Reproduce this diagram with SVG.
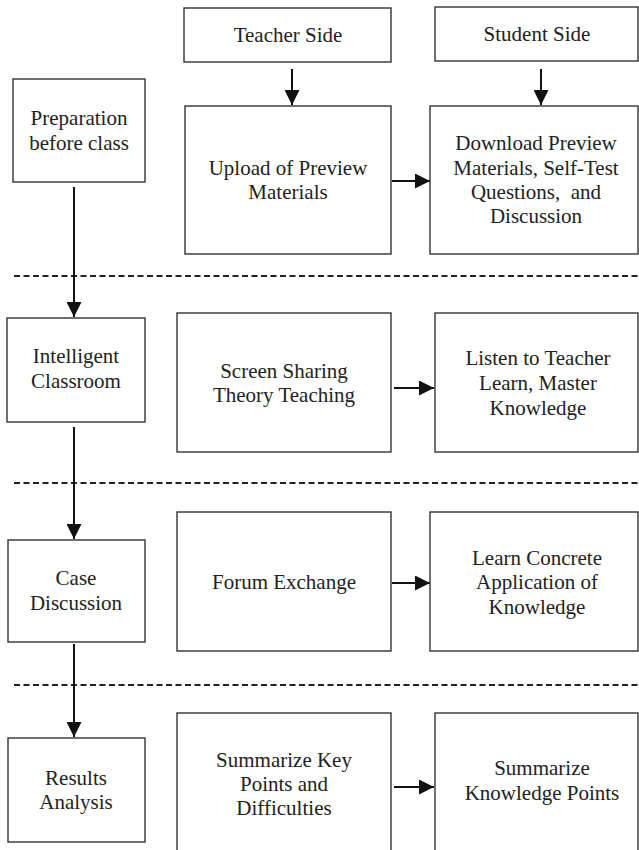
<svg xmlns="http://www.w3.org/2000/svg" width="639" height="850" viewBox="0 0 639 850">
<style>
.box{fill:#fff;stroke:#333;stroke-width:1.4}
.t{font-family:"Liberation Serif","Times New Roman",serif;font-size:21px;fill:#222;text-anchor:middle}
.c{stroke:#111;stroke-width:2;fill:none}
.arr{marker-end:url(#ah)}
.dash{stroke:#222;stroke-width:2;stroke-dasharray:6 3.5;fill:none}
</style>
<defs>
<marker id="ah" markerUnits="userSpaceOnUse" markerWidth="16" markerHeight="15" refX="15" refY="7.5" orient="auto">
<path d="M0,0 L15,7.5 L0,15 z" fill="#111"/>
</marker>
</defs>
<rect width="639" height="850" fill="#fff"/>
<g id="separators">
<line class="dash" x1="14" y1="276" x2="639" y2="276"/>
<line class="dash" x1="14" y1="483" x2="639" y2="483"/>
<line class="dash" x1="14" y1="685" x2="639" y2="685"/>
</g>
<g id="connectors">
<line class="c arr" x1="292" y1="69" x2="292" y2="105"/>
<line class="c arr" x1="541" y1="69" x2="541" y2="105"/>
<line class="c arr" x1="392" y1="181" x2="430" y2="181"/>
<line class="c arr" x1="394" y1="388" x2="434" y2="388"/>
<line class="c arr" x1="392" y1="583" x2="430" y2="583"/>
<line class="c arr" x1="394" y1="787" x2="434" y2="787"/>
<line class="c arr" x1="74" y1="187" x2="74" y2="317"/>
<line class="c arr" x1="74" y1="427" x2="74" y2="539"/>
<line class="c arr" x1="74" y1="644" x2="74" y2="737"/>
</g>
<g id="teacher-side"><rect class="box" x="184" y="8" width="207" height="54"/><text class="t" x="288" y="42">Teacher Side</text></g>
<g id="student-side"><rect class="box" x="435" y="7" width="203" height="54"/><text class="t" x="537" y="41">Student Side</text></g>
<g id="preparation"><rect class="box" x="13" y="79" width="132" height="103"/><text class="t" x="79" y="125">Preparation</text><text class="t" x="79" y="150">before class</text></g>
<g id="upload"><rect class="box" x="185" y="106" width="206" height="148"/><text class="t" x="288" y="175">Upload of Preview</text><text class="t" x="288" y="199">Materials</text></g>
<g id="download"><rect class="box" x="430" y="106" width="208" height="148"/><text class="t" x="536" y="150">Download Preview</text><text class="t" x="536" y="175">Materials, Self-Test</text><text class="t" x="536" y="199" xml:space="preserve" style="white-space:pre">Questions,  and</text><text class="t" x="536" y="223">Discussion</text></g>
<g id="intelligent"><rect class="box" x="7" y="318" width="138" height="104"/><text class="t" x="76" y="363">Intelligent</text><text class="t" x="76" y="388">Classroom</text></g>
<g id="screen-sharing"><rect class="box" x="177" y="313" width="214" height="139"/><text class="t" x="284" y="378">Screen Sharing</text><text class="t" x="284" y="402">Theory Teaching</text></g>
<g id="listen"><rect class="box" x="435" y="313" width="203" height="139"/><text class="t" x="538" y="365">Listen to Teacher</text><text class="t" x="538" y="390">Learn, Master</text><text class="t" x="538" y="415">Knowledge</text></g>
<g id="case"><rect class="box" x="8" y="540" width="137" height="102"/><text class="t" x="76" y="585">Case</text><text class="t" x="76" y="610">Discussion</text></g>
<g id="forum"><rect class="box" x="177" y="512" width="214" height="139"/><text class="t" x="284" y="589">Forum Exchange</text></g>
<g id="learn"><rect class="box" x="430" y="512" width="208" height="139"/><text class="t" x="537" y="565">Learn Concrete</text><text class="t" x="537" y="589">Application of</text><text class="t" x="537" y="614">Knowledge</text></g>
<g id="results"><rect class="box" x="8" y="738" width="137" height="104"/><text class="t" x="76" y="785">Results</text><text class="t" x="76" y="809">Analysis</text></g>
<g id="summarize-key"><rect class="box" x="177" y="713" width="214" height="145"/><text class="t" x="284" y="767">Summarize Key</text><text class="t" x="284" y="791">Points and</text><text class="t" x="284" y="815">Difficulties</text></g>
<g id="summarize-knowledge"><rect class="box" x="435" y="713" width="203" height="145"/><text class="t" x="542" y="775">Summarize</text><text class="t" x="542" y="800">Knowledge Points</text></g>
</svg>
